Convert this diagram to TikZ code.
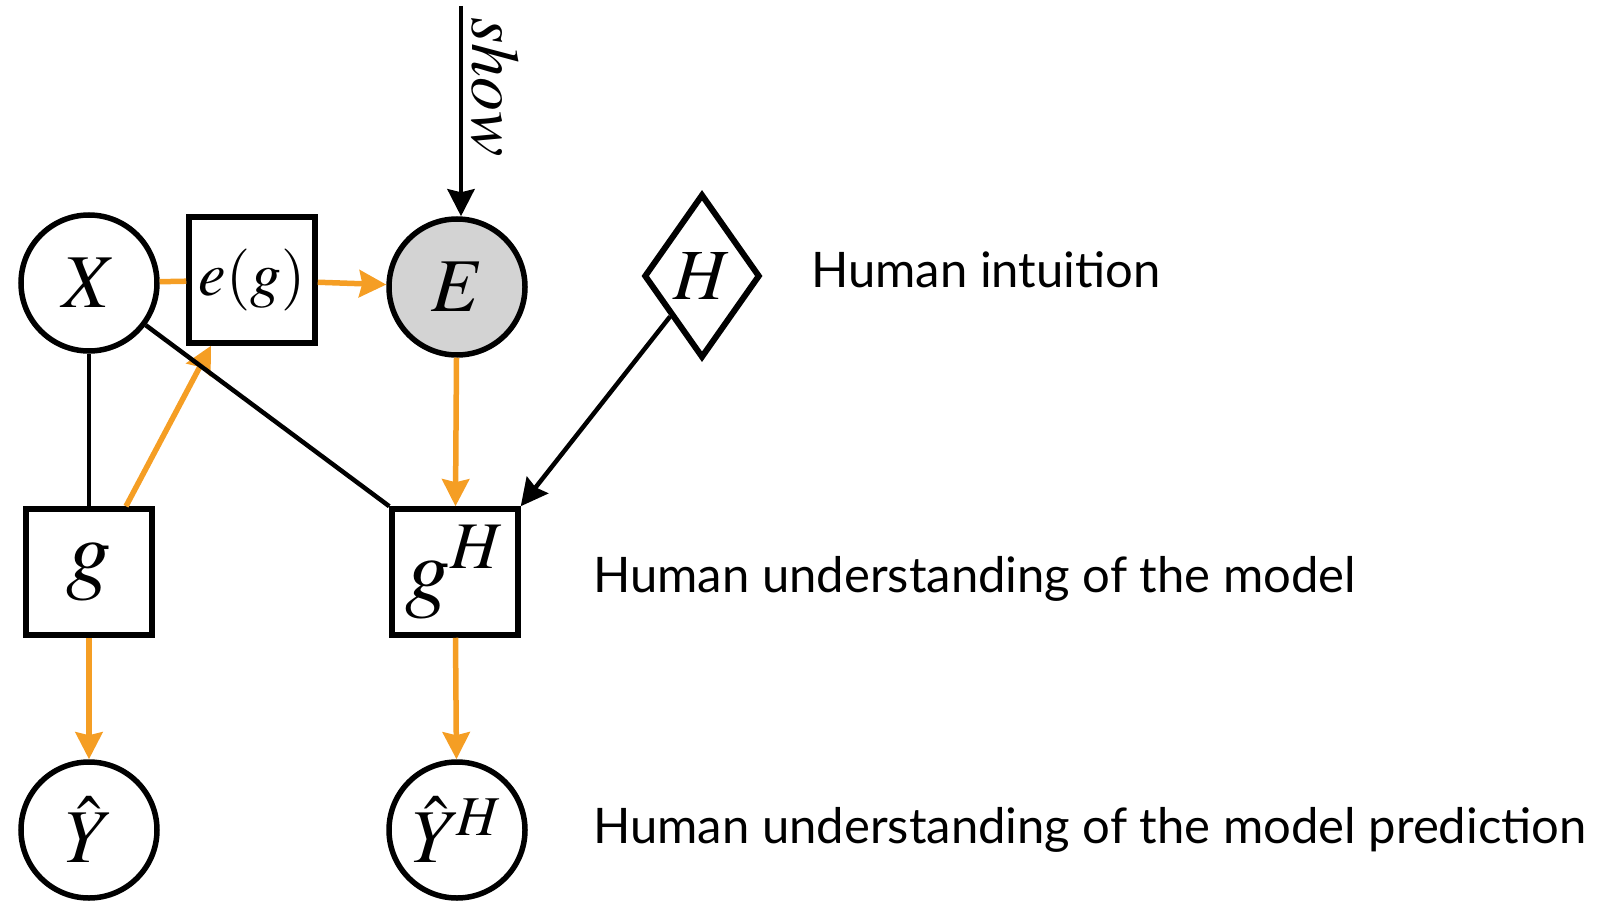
\documentclass[tikz,border=0pt]{standalone}
\usepackage{mathptmx}
\usepackage{fontspec}
\setmainfont{Liberation Serif}
\newfontfamily\notefont{Lato}
\usetikzlibrary{arrows.meta, shapes.geometric}
\definecolor{amber}{RGB}{245,158,36}
\definecolor{shown}{RGB}{211,211,211}

\begin{document}
\begin{tikzpicture}[x=1pt, y=-1pt, >={Stealth[length=27pt, width=27pt, inset=3pt]},
  var/.style={circle, draw, line width=5.5pt, minimum size=136pt, inner sep=0pt, font=\fontsize{76}{80}\selectfont},
  fn/.style={rectangle, draw, line width=5.5pt, minimum size=126pt, inner sep=0pt, font=\fontsize{90}{92}\selectfont},
  prior/.style={diamond, draw, line width=6pt, minimum width=116pt, minimum height=164pt, inner sep=0pt, font=\fontsize{72}{76}\selectfont},
  link/.style={draw=black, line width=4.5pt},
  flow/.style={draw=amber, line width=5.5pt},
  note/.style={anchor=base west, inner sep=0pt, font=\notefont\fontsize{49}{56}\selectfont}]
  \useasboundingbox (0,0) rectangle (1616,904);

  % variables and functions
  \node[var] (X) at (89,283) {$X$};
  \node[fn, font=\fontsize{62}{64}\selectfont] (eg) at (252,280) {$e(g)$};
  \node[var, fill=shown] (E) at (457,287) {$E$};
  \node[prior] (H) at (702,276) {$H$};
  \node[fn] (g) at (89,572) {$g$};
  \node[fn] (gH) at (455,572) {$g^H$};
  \node[var] (Y) at (89,830) {$\hat{Y}$};
  \node[var] (YH) at (457,830) {$\hat{Y}\mkern-1mu^{H}$};

  % shown explanation enters from above
  \coordinate (src) at (461,6);
  \node[rotate=-90, anchor=base west, inner sep=0pt, font=\fontsize{68}{70}\selectfont] (show) at (472,17) {$show$};

  % side notes
  \node[note] (intuition) at (811,287) {Human intuition};
  \node[note] (understand) at (593,592) {Human understanding of the model};
  \node[note] (predict) at (593,843) {Human understanding of the model prediction};

  % orange: model and explanation flow
  \draw[flow] (X) -- (eg);
  \draw[flow, ->] (eg) -- (E);
  \draw[flow, ->] ([xshift=37pt]g.north) -- ([xshift=-41pt]eg.south);
  \draw[flow, ->] (E) -- (gH);
  \draw[flow, ->] (g) -- (Y);
  \draw[flow, ->] (gH) -- (YH);

  % black: inputs
  \draw[link, ->] (src) -- (src |- E.north);
  \draw[link] (X) -- (g);
  \draw[link] (X) -- (gH.north west);
  \draw[link, ->] (H) -- (gH.north east);
\end{tikzpicture}
\end{document}
